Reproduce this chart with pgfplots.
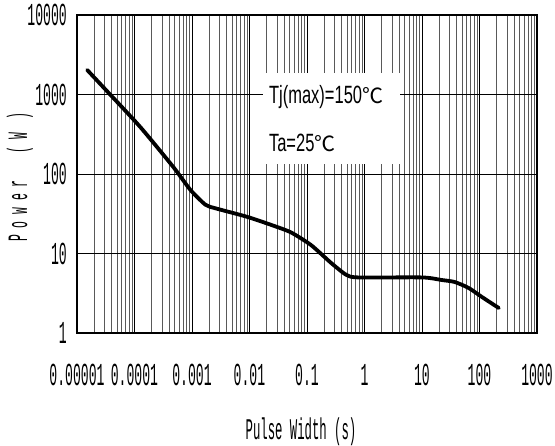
\documentclass[border=0pt]{standalone}
\usepackage{fontspec}
\usepackage{pgfplots}
\pgfplotsset{compat=1.18}
\newfontfamily\tickfont[FakeStretch=0.41]{Liberation Mono}
\newfontfamily\annfont[FakeStretch=0.66]{Liberation Sans}
\newfontfamily\cjk{Noto Sans CJK SC}
\begin{document}
\begin{tikzpicture}
\begin{axis}[
  scale only axis, width=460pt, height=318pt,
  xmode=log, ymode=log,
  xmin=1e-5, xmax=1000, ymin=1, ymax=10000,
  xtick={1e-5,1e-4,1e-3,1e-2,1e-1,1,10,100,1000},
  xticklabels={0.00001,0.0001,0.001,0.01,0.1,1,10,100,1000},
  minor xtick={2e-5,3e-5,4e-5,5e-5,6e-5,7e-5,8e-5,9e-5,
    2e-4,3e-4,4e-4,5e-4,6e-4,7e-4,8e-4,9e-4,
    2e-3,3e-3,4e-3,5e-3,6e-3,7e-3,8e-3,9e-3,
    0.02,0.03,0.04,0.05,0.06,0.07,0.08,0.09,
    0.2,0.3,0.4,0.5,0.6,0.7,0.8,0.9,
    2,3,4,5,6,7,8,9,
    20,30,40,50,60,70,80,90,
    200,300,400,500,600,700,800,900},
  ytick={1,10,100,1000,10000},
  yticklabels={1,10,100,1000,10000},
  minor ytick={},
  xmajorgrids, xminorgrids, ymajorgrids,
  major grid style={black, line width=0.6pt},
  minor grid style={black!65, line width=0.7pt},
  axis line style={line width=1.5pt},
  major tick length=4pt, minor tick length=0pt,
  tick style={black, line width=0.8pt},
  tick align=inside,
  xticklabel style={font=\tickfont\fontsize{32}{33}\selectfont, inner sep=0pt, anchor=north, yshift=-31pt},
  yticklabel style={font=\tickfont\fontsize{32}{33}\selectfont, inner sep=0pt, anchor=east, xshift=-10pt},
  clip=false,
]
\fill[white] (axis cs:0.017,133.7) rectangle (axis cs:4.2,1862);
\addplot[black, line width=3.8pt, line join=round, line cap=round, smooth, tension=0.4] coordinates {
(1.5e-5,2040) (3.77e-5,1000) (1.26e-4,390) (4.75e-4,122)
(9.4e-4,63) (1.72e-3,41) (2.57e-3,37) (7e-3,30.5) (0.0105,28)
(0.0234,23) (0.052,18.5) (0.117,12.8) (0.263,7.6) (0.48,5.4)
(0.78,5.0) (10,5.0) (22,4.64) (37,4.38) (65,3.68) (110,2.84) (217,2.06)
};
\node[anchor=west, inner sep=0pt] at (axis cs:0.0217,931) {\annfont\fontsize{25}{27}\selectfont Tj(max)=150{\cjk\fontsize{21}{22}\selectfont ℃}};
\node[anchor=west, inner sep=0pt] at (axis cs:0.0217,245) {\annfont\fontsize{25}{27}\selectfont Ta=25{\cjk\fontsize{21}{22}\selectfont ℃}};
\end{axis}
\node[rotate=90, inner sep=0pt] at ([xshift=-57pt,yshift=154.6pt]current axis.south west)
  {\tickfont\fontsize{28}{29}\selectfont\makebox[13.7pt]{P}\makebox[13.7pt]{o}\makebox[13.7pt]{w}\makebox[13.7pt]{e}\makebox[13.7pt]{r}\hspace{21.35pt}\makebox[10pt]{(}\hspace{2.5pt}\makebox[13.7pt]{W}\hspace{7.8pt}\makebox[10pt]{)}};
\node[inner sep=0pt] at ([xshift=224pt,yshift=-99pt]current axis.south west)
  {\tickfont\fontsize{30}{31}\selectfont Pulse Width (s)};
\pgfresetboundingbox
\path[use as bounding box] ([xshift=-77pt,yshift=-113pt]current axis.south west) rectangle ([xshift=18pt,yshift=15pt]current axis.north east);
\end{tikzpicture}
\end{document}
